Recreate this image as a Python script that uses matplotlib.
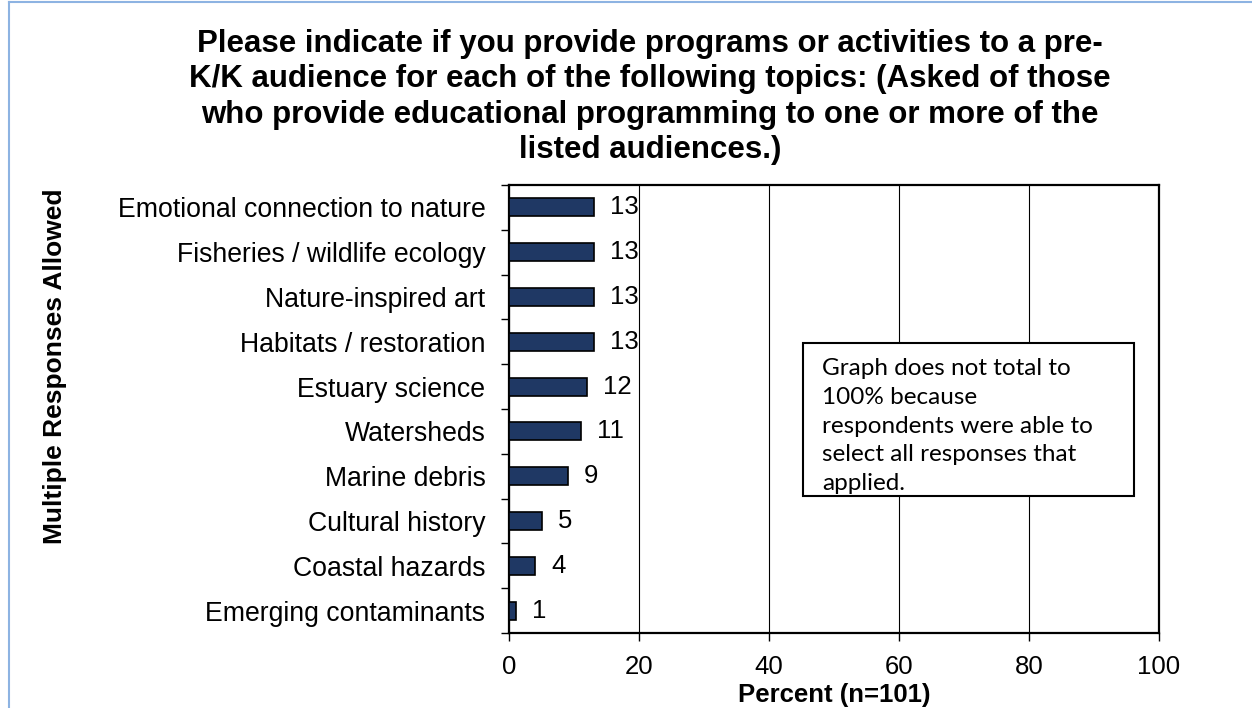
import numpy as np
import matplotlib.pyplot as plt
from matplotlib.patches import Rectangle
from matplotlib.lines import Line2D

topics = ["Emotional connection to nature", "Fisheries / wildlife ecology",
          "Nature-inspired art", "Habitats / restoration", "Estuary science",
          "Watersheds", "Marine debris", "Cultural history", "Coastal hazards",
          "Emerging contaminants"]
percent = [13, 13, 13, 13, 12, 11, 9, 5, 4, 1]
xticks = [0, 20, 40, 60, 80, 100]

title = ("Please indicate if you provide programs or activities to a pre-\n"
         "K/K audience for each of the following topics: (Asked of those\n"
         "who provide educational programming to one or more of the\n"
         "listed audiences.)")
note = ("Graph does not total to\n100% because\nrespondents were able to\n"
        "select all responses that\napplied.")

plt.rcParams['font.family'] = ['Liberation Sans', 'DejaVu Sans']

fig = plt.figure(figsize=(12.52, 7.08), dpi=100)
ax = fig.add_axes([509 / 1252, 1 - 633 / 708, 650 / 1252, 448 / 708])

y = np.arange(len(topics))[::-1]
ax.barh(y, percent, height=0.4, color="#1F3864", edgecolor="black", linewidth=1.2, zorder=3)
for yi, v in zip(y, percent):
    ax.text(v + 2.5, yi, str(v), va="center", ha="left", fontsize=18.5, zorder=4)

ax.set_xlim(0, 100)
ax.set_ylim(-0.5, len(topics) - 0.5)
ax.set_xticks(xticks)
ax.set_xticklabels([str(t) for t in xticks], fontsize=18.5)
ax.set_yticks(y)
ax.set_yticklabels(topics, fontsize=19.2)
ax.set_yticks(np.arange(len(topics) + 1) - 0.5, minor=True)
ax.tick_params(axis="y", which="major", length=0, pad=17)
ax.tick_params(axis="y", which="minor", length=6, width=1)
ax.tick_params(axis="x", length=6, width=1, pad=10)
ax.grid(axis="x", color="black", linewidth=0.8, zorder=0)
for s in ax.spines.values():
    s.set_linewidth(1.6)
ax.set_xlabel("Percent (n=101)", fontsize=18.5, fontweight="bold", labelpad=3)

fig.text(55 / 1252, 1 - 366 / 708, "Multiple Responses Allowed", rotation=90,
         ha="center", va="center", fontsize=19, fontweight="bold")
fig.text(650 / 1252, 1 - 97 / 708, title, ha="center", va="center",
         fontsize=22.5, fontweight="bold", linespacing=1.24)

# note box
ax.add_patch(Rectangle((45.2, 0.306), 50.9, 0.341, transform=ax.get_xaxis_transform(),
                       facecolor="white", edgecolor="black", linewidth=1.5, zorder=5))
ax.text(48.2, 0.614, note, transform=ax.get_xaxis_transform(), ha="left", va="top",
        fontsize=17.5, family=["Lato", "DejaVu Sans"], linespacing=1.46, zorder=6)

# light blue frame at top/left
fig.add_artist(Line2D([9 / 1252, 1], [1 - 2 / 708, 1 - 2 / 708], color="#8DB3E2", linewidth=1.5))
fig.add_artist(Line2D([9 / 1252, 9 / 1252], [0, 1 - 2 / 708], color="#8DB3E2", linewidth=1.5))

fig.savefig("out.png", dpi=100)
